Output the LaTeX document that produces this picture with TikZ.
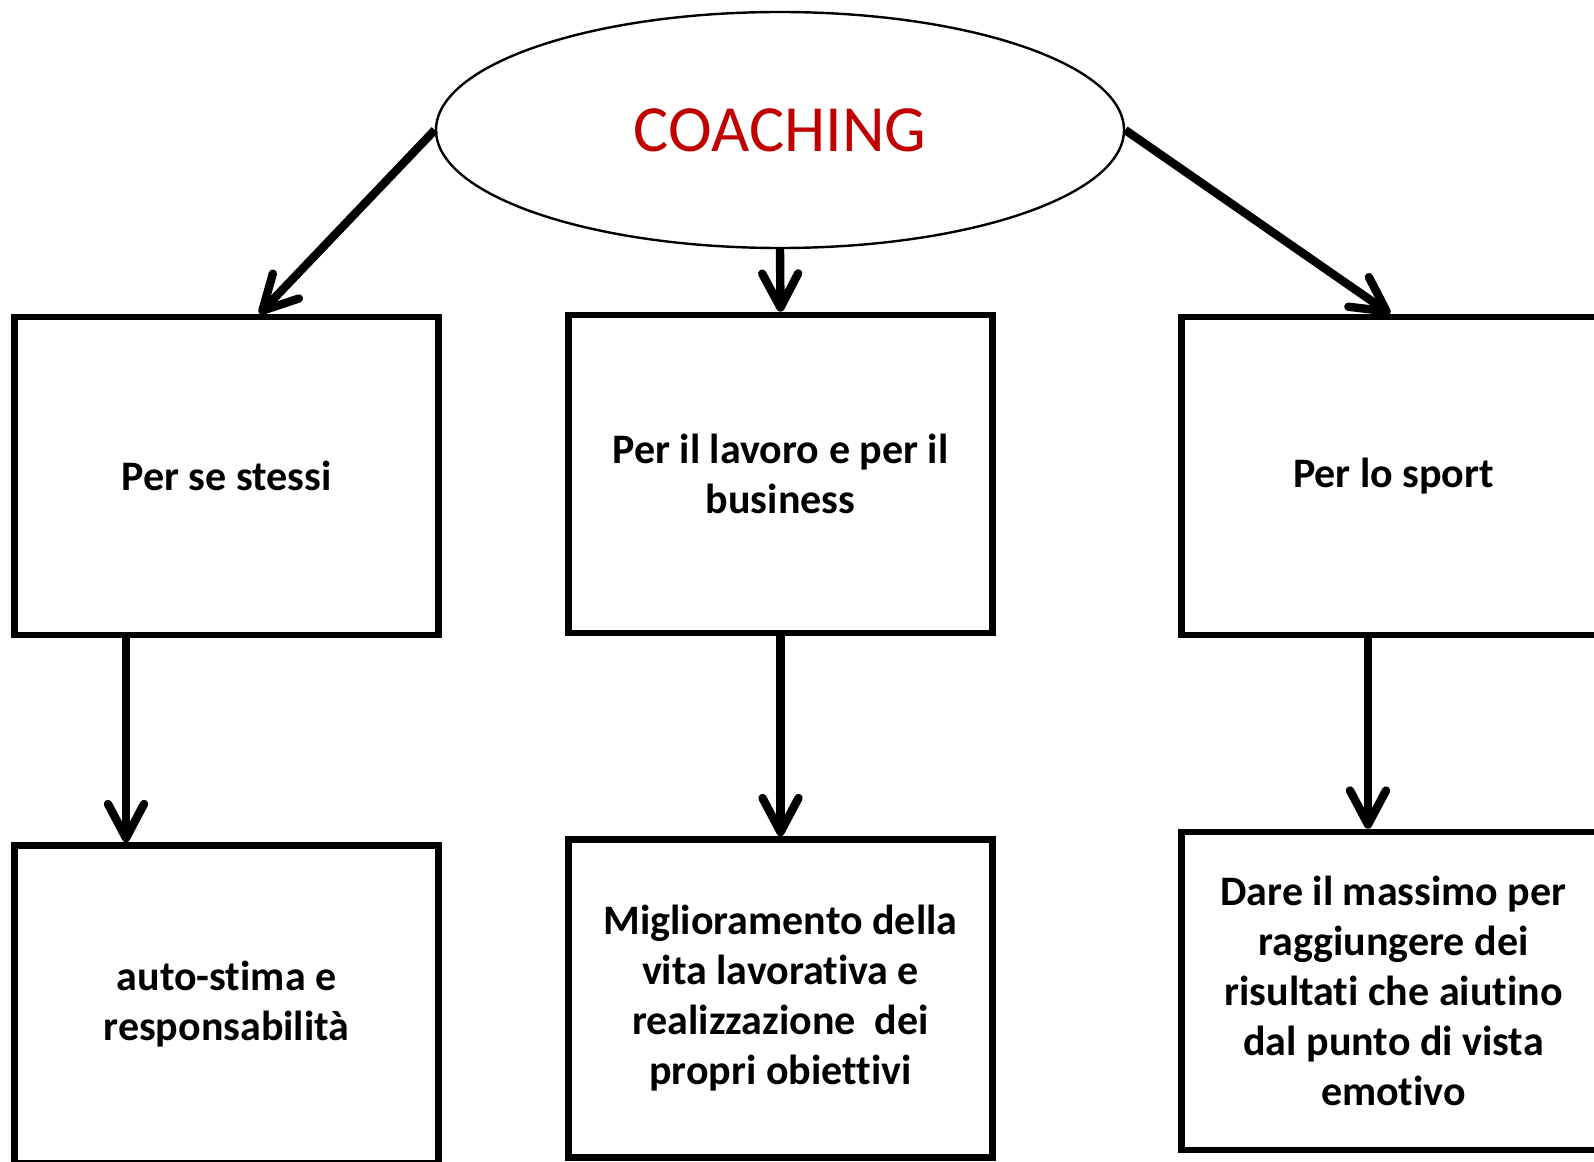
\documentclass[tikz,border=0pt]{standalone}
\usepackage{fontspec}
\setmainfont{Carlito}[Ligatures=NoCommon]
\usetikzlibrary{arrows.meta,shapes.geometric}
\definecolor{coachred}{RGB}{192,0,0}
\tikzset{
box/.style={draw, line width=3.3pt, minimum width=212pt, minimum height=159pt, inner sep=0pt, align=center, font=\fontsize{21}{25}\selectfont\bfseries},
arr/.style={line width=4.2pt, -{Straight Barb[length=17pt,width=18pt,line cap=round,line join=round]}},
}
\begin{document}
\begin{tikzpicture}[x=0.5pt,y=-0.5pt]
\useasboundingbox (0,0) rectangle (1594,1161);
\clip (0,0) rectangle (1594,1161);
\node[draw, ellipse, line width=1.2pt, minimum width=344pt, minimum height=118pt, text=coachred, font=\fontsize{33}{40}\selectfont] (coach) at (780,130) {COACHING};
\foreach \n/\x/\y/\t in {self/226.5/476/{Per se stessi}, work/780.5/474/{Per il lavoro e per il\\business}, sport/1393.5/476/{Per lo sport}} % first row
\node[box] (\n) at (\x,\y) {\t};
\foreach \n/\x/\y/\t in {selfres/226.5/1004.5/{auto-stima e\\responsabilità}, workres/780.5/998.5/{Miglioramento della\\vita lavorativa e\\realizzazione\ \ dei\\propri obiettivi}, sportres/1393.5/991/{Dare il massimo per\\raggiungere dei\\risultati che aiutino\\dal punto di vista\\emotivo}} % second row
\node[box] (\n) at (\x,\y) {\t};
\draw[arr] (coach.west) -- ([xshift=16.5pt]self.north);
\draw[arr] (coach.south) -- (work.north);
\draw[arr] (coach.east) -- ([xshift=-1.75pt]sport.north);
\draw[arr] (self.south -| 126,0) -- (selfres.north -| 126,0);
\draw[arr] (work.south) -- (workres.north);
\draw[arr] (sport.south -| 1368,0) -- (sportres.north -| 1368,0);
\end{tikzpicture}
\end{document}
